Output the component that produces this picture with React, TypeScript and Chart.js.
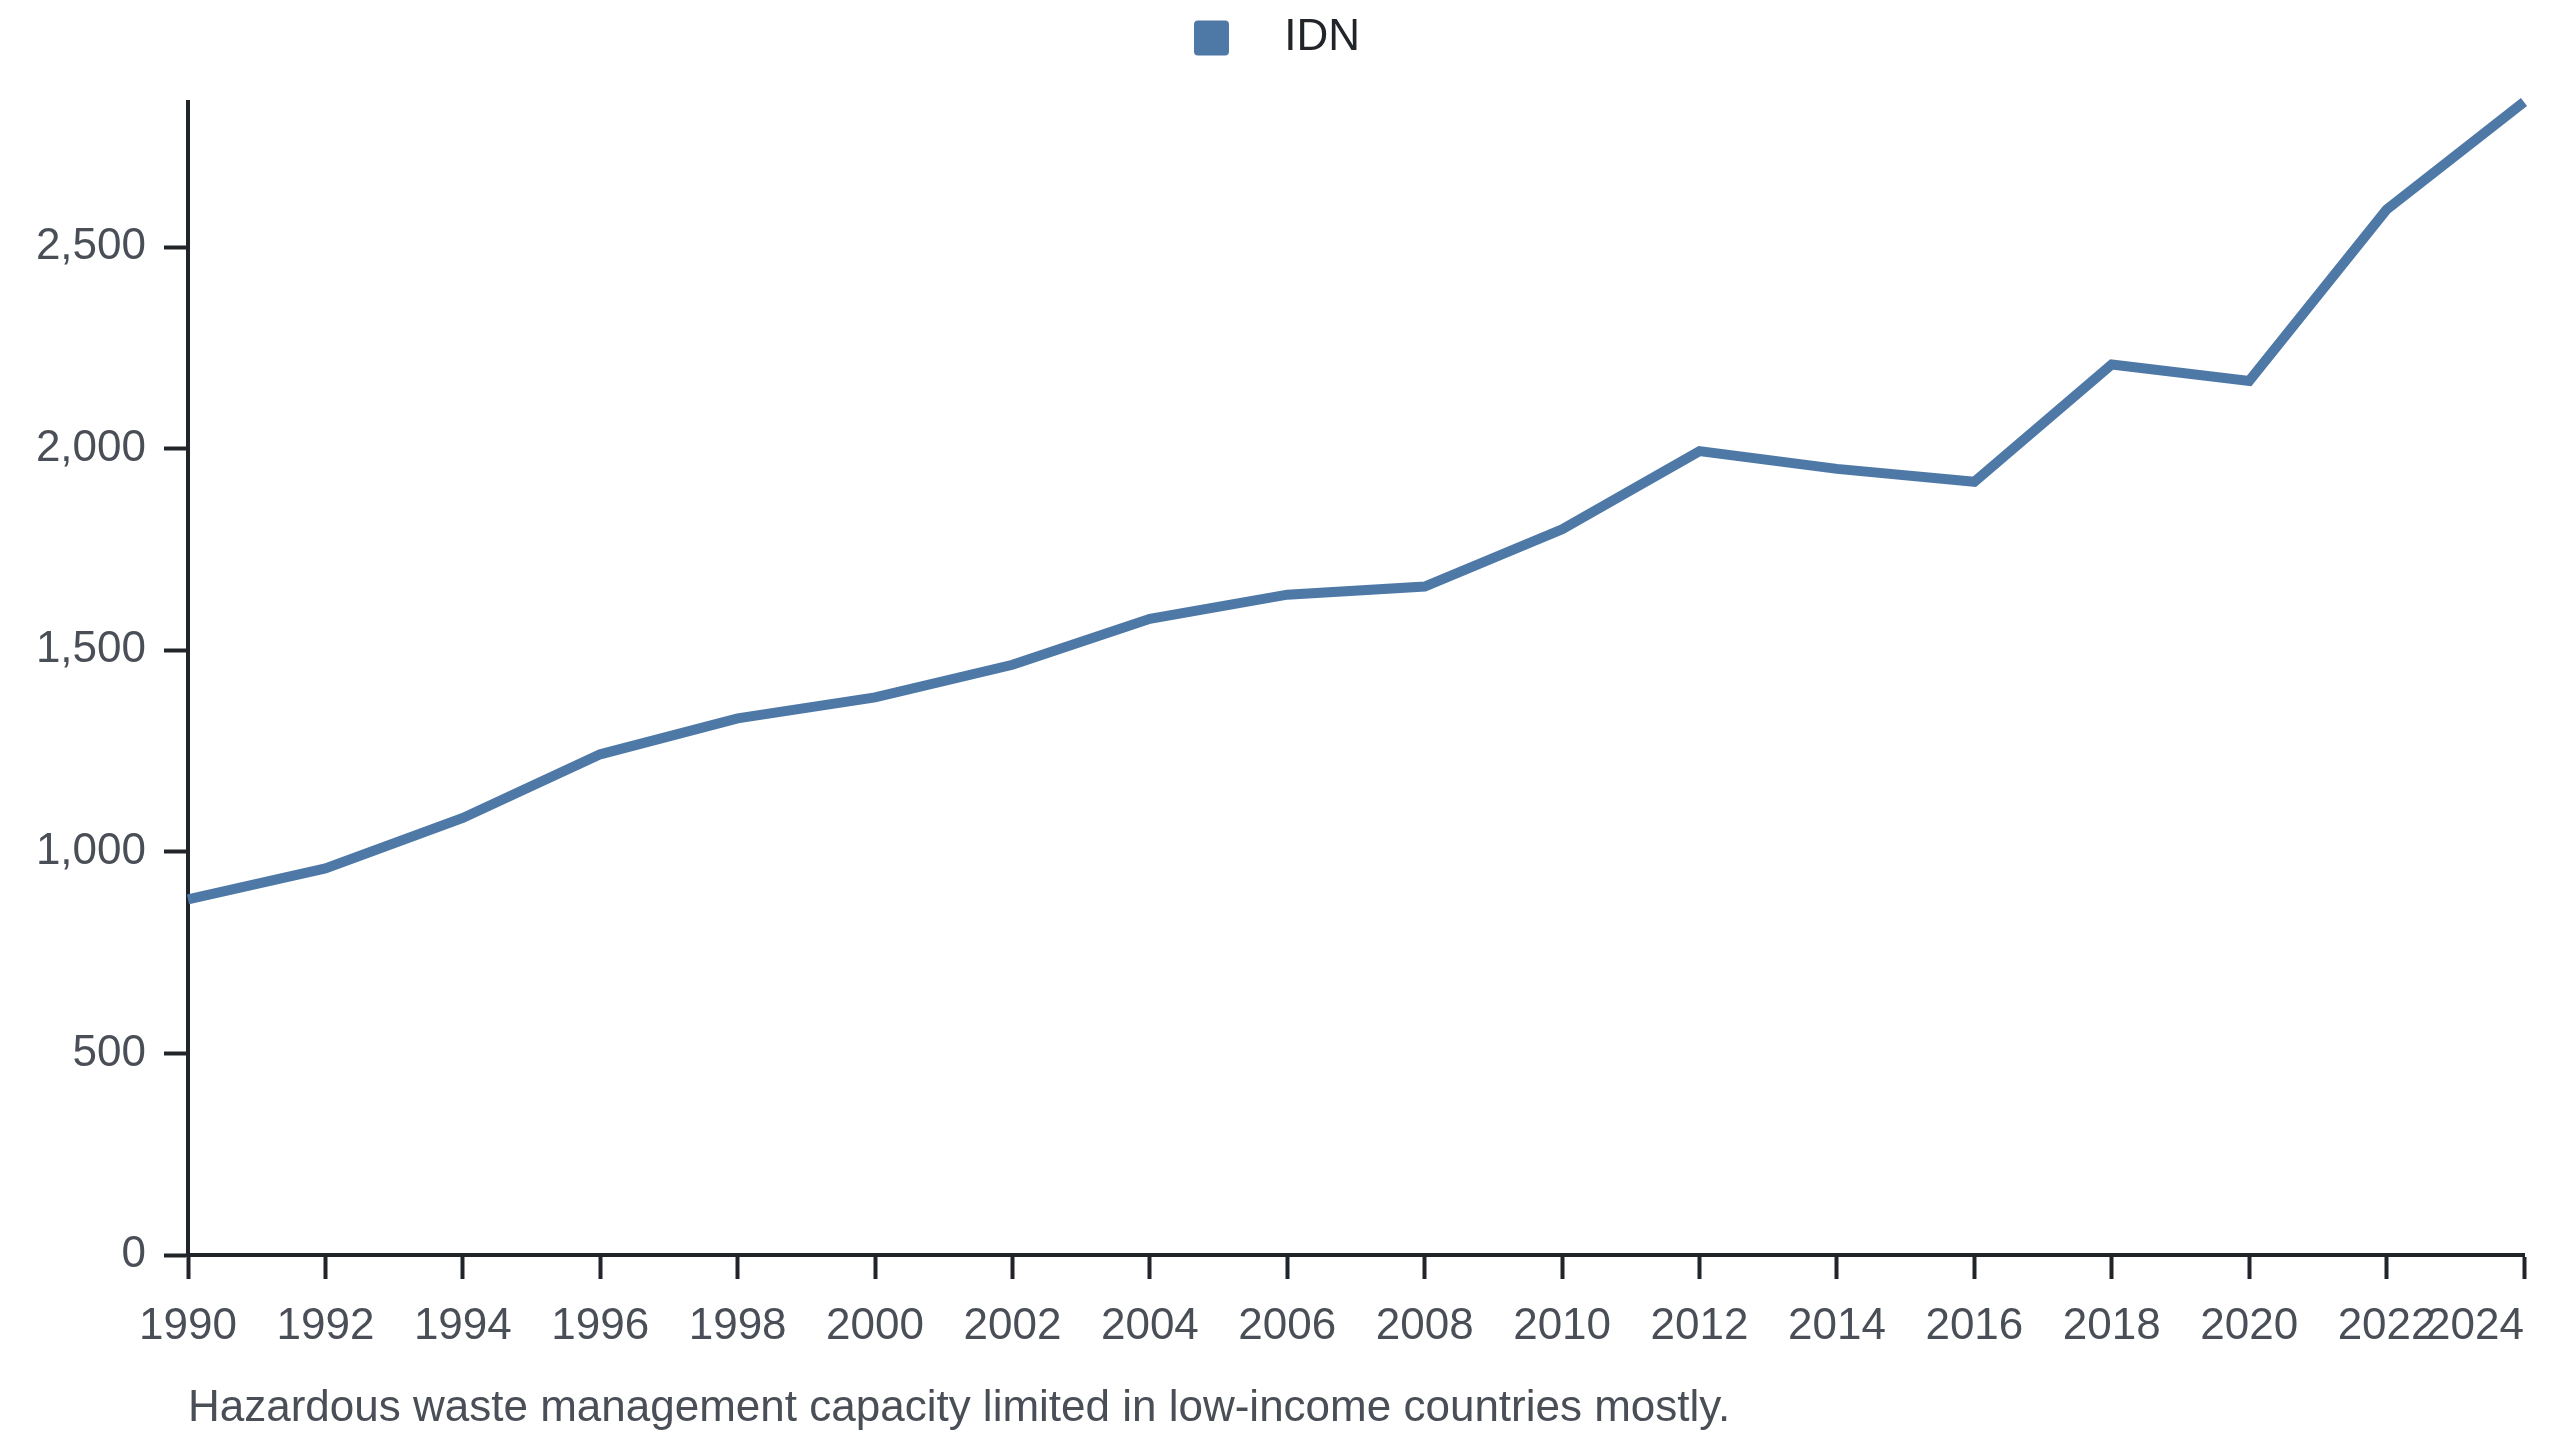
import { useEffect, useRef } from 'react';
import Chart from 'chart.js/auto';

// data
const years = [1990, 1992, 1994, 1996, 1998, 2000, 2002, 2004, 2006, 2008, 2010, 2012, 2014, 2016, 2018, 2020, 2022, 2024];
const idnValues = [882, 959, 1084, 1242, 1331, 1383, 1464, 1578, 1638, 1658, 1800, 1994, 1950, 1918, 2209, 2168, 2593, 2860];
const yTickValues = [0, 500, 1000, 1500, 2000, 2500];
const seriesLabel = 'IDN';
const caption = 'Hazardous waste management capacity limited in low-income countries mostly.';

const FONT = "'Liberation Sans', Arial, Helvetica, sans-serif";
const FONT_SIZE = 44;
const LINE_COLOR = '#4e79a7';
const AXIS_COLOR = '#212529';
const TICK_TEXT = '#4a4f57';

// push the plot down a bit under the legend
const legendSpacing = {
  id: 'legendSpacing',
  beforeInit(chart: any) {
    const legend = chart.legend;
    if (!legend) return;
    const fit = legend.fit;
    legend.fit = function () {
      fit.call(this);
      this.height += 32;
    };
  },
};

// last year label sits flush right against its tick
const lastLabelRight = {
  id: 'lastLabelRight',
  beforeDraw(chart: any) {
    const items = chart.scales.x.getLabelItems(chart.chartArea);
    const last = items[items.length - 1];
    if (last) last.options.textAlign = 'right';
  },
};

// note under the x axis, aligned with the y axis
const captionPlugin = {
  id: 'captionNote',
  afterDraw(chart: any) {
    const { ctx, chartArea } = chart;
    ctx.save();
    ctx.font = `${FONT_SIZE}px ${FONT}`;
    ctx.fillStyle = TICK_TEXT;
    ctx.textAlign = 'left';
    ctx.textBaseline = 'alphabetic';
    ctx.fillText(caption, chartArea.left, chartArea.bottom + 166);
    ctx.restore();
  },
};

export default function App() {
  const canvasRef = useRef<HTMLCanvasElement>(null);
  const chartRef = useRef<Chart | null>(null);

  useEffect(() => {
    if (!canvasRef.current) return;
    if (chartRef.current) chartRef.current.destroy();

    chartRef.current = new Chart(canvasRef.current, {
      type: 'line',
      data: {
        datasets: [{
          label: seriesLabel,
          data: years.map((yr, i) => ({ x: yr, y: idnValues[i] })),
          borderColor: LINE_COLOR,
          backgroundColor: LINE_COLOR,
          borderWidth: 10,
          borderJoinStyle: 'miter',
          pointRadius: 0,
          pointHoverRadius: 0,
          tension: 0,
          clip: false,
        }],
      },
      options: {
        animation: false,
        responsive: true,
        maintainAspectRatio: false,
        devicePixelRatio: 1,
        layout: { padding: { left: 30, right: 36, top: 0, bottom: 75 } },
        plugins: {
          legend: {
            position: 'top',
            align: 'center',
            labels: {
              boxWidth: 35,
              boxHeight: 35,
              padding: 16,
              color: AXIS_COLOR,
              font: { size: FONT_SIZE, family: FONT },
              useBorderRadius: true,
              borderRadius: 4,
              generateLabels: (chart: any) =>
                Chart.defaults.plugins.legend.labels.generateLabels(chart).map((l: any) => ({
                  ...l,
                  text: '  \u2009' + l.text,
                  lineWidth: 0,
                })),
            },
          },
          tooltip: { enabled: false },
        },
        scales: {
          x: {
            type: 'linear',
            min: years[0],
            max: years[years.length - 1],
            ticks: {
              stepSize: 2,
              autoSkip: false,
              maxRotation: 0,
              padding: 21,
              color: TICK_TEXT,
              font: { size: FONT_SIZE, family: FONT },
              callback: (v: any) => String(v),
            },
            grid: {
              display: true,
              drawOnChartArea: false,
              drawTicks: true,
              tickLength: 24,
              tickWidth: 4,
              tickColor: AXIS_COLOR,
            },
            border: { display: true, color: AXIS_COLOR, width: 4 },
            afterFit: (scale: any) => {
              scale.height = 110;
              scale.paddingLeft = 0;
              scale.paddingRight = 0;
            },
          },
          y: {
            type: 'linear',
            min: 0,
            max: Math.max(...idnValues),
            afterBuildTicks: (scale: any) => {
              scale.ticks = yTickValues.map((v) => ({ value: v }));
            },
            ticks: {
              padding: 18,
              color: TICK_TEXT,
              font: { size: FONT_SIZE, family: FONT },
              callback: (v: any) => Number(v).toLocaleString('en-US'),
            },
            grid: {
              display: true,
              drawOnChartArea: false,
              drawTicks: true,
              tickLength: 24,
              tickWidth: 4,
              tickColor: AXIS_COLOR,
            },
            border: { display: true, color: AXIS_COLOR, width: 4 },
            afterFit: (scale: any) => {
              scale.width = 158;
              scale.paddingTop = 0;
              scale.paddingBottom = 0;
            },
          },
        },
      },
      plugins: [legendSpacing, lastLabelRight, captionPlugin],
    } as any);

    return () => {
      if (chartRef.current) {
        chartRef.current.destroy();
        chartRef.current = null;
      }
    };
  }, []);

  return (
    <div style={{ position: 'fixed', left: 0, top: 0, width: 2560, height: 1440, background: '#fff' }}>
      <canvas ref={canvasRef} />
    </div>
  );
}
